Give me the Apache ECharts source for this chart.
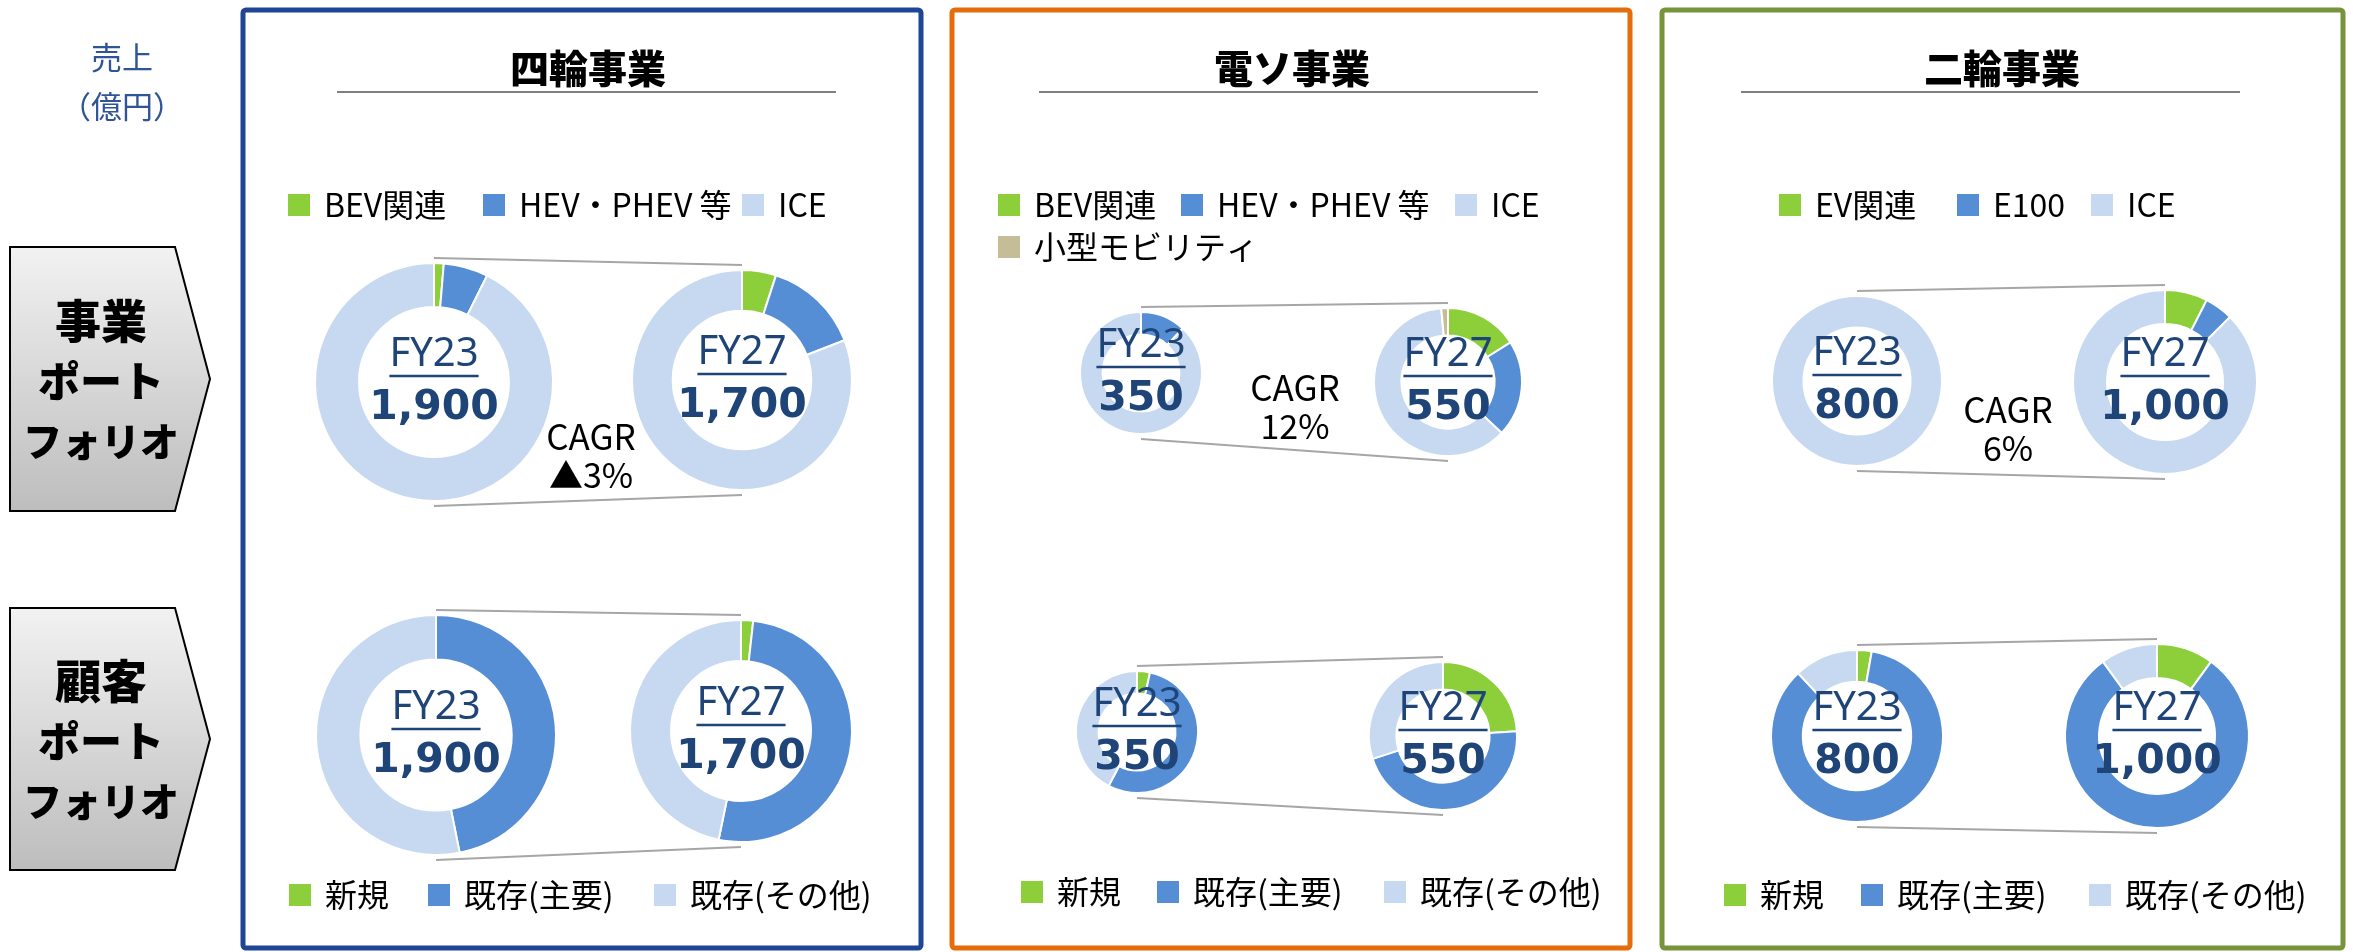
<!DOCTYPE html>
<html>
<head>
<meta charset="utf-8">
<script src="https://cdn.jsdelivr.net/npm/echarts@6/dist/echarts.min.js"></script>
<style>
html, body { margin: 0; padding: 0; background: #fff; }
#main { width: 2353px; height: 952px; }
</style>
</head>
<body>
<div id="main"></div>
<script>
// 事業・顧客ポートフォリオ（売上, 億円）
var segmentTitles = ['四輪事業', '電ソ事業', '二輪事業'];
var yearLabels = ['FY23', 'FY27'];
var sales23 = [1900, 350, 800];
var sales27 = [1700, 550, 1000];
var cagrLabels = ['▲3%', '12%', '6%'];

var bizNames4 = ['BEV関連', 'HEV・PHEV 等', 'ICE'];
var bizNamesDen = ['BEV関連', 'HEV・PHEV 等', 'ICE', '小型モビリティ'];
var bizNames2 = ['EV関連', 'E100', 'ICE'];
var custNames = ['新規', '既存(主要)', '既存(その他)'];

// 事業ポートフォリオ
var biz4_23 = [25, 115, 1760];
var biz4_27 = [85, 240, 1375];
var bizDen_23 = [0, 42, 308, 0];
var bizDen_27 = [88, 116, 338, 8];
var biz2_23 = [0, 0, 800];
var biz2_27 = [75, 50, 875];

// 顧客ポートフォリオ
var cust4_23 = [0, 890, 1010];
var cust4_27 = [30, 875, 795];
var custDen_23 = [12, 190, 148];
var custDen_27 = [132, 253, 165];
var cust2_23 = [22, 682, 96];
var cust2_27 = [100, 800, 100];

var GREEN = '#8CCF3A', BLUE = '#558ED5', LIGHT = '#C6D9F0', TAN = '#C4BD97';
var bizColors = [GREEN, BLUE, LIGHT, TAN];
var custColors = [GREEN, BLUE, LIGHT];
var NAVY = '#1F4478';
var JP = '"Noto Sans CJK JP", "Noto Sans", sans-serif';

// layout of the three panels
var panels = [
    {
        x: 243, w: 678, color: '#1F4596', titleX: 588, rule: [337, 836],
        bizNames: bizNames4, biz: [biz4_23, biz4_27], cust: [cust4_23, cust4_27],
        bizRings: [[434, 382, 119], [742, 380, 110]],
        custRings: [[436, 735, 120], [741, 731, 111]],
        cagrPos: [591, 437],
        bizLegend: [[286, 205], [481, 205], [740, 205]],
        custLegend: [[287, 895], [426, 895], [652, 895]]
    },
    {
        x: 952, w: 678, color: '#E46C0A', titleX: 1292, rule: [1039, 1538],
        bizNames: bizNamesDen, biz: [bizDen_23, bizDen_27], cust: [custDen_23, custDen_27],
        bizRings: [[1141, 373, 61], [1448, 382, 74]],
        custRings: [[1137, 732, 61], [1443, 736, 74]],
        cagrPos: [1295, 388],
        bizLegend: [[996, 205], [1179, 205], [1453, 205], [996, 247]],
        custLegend: [[1019, 892], [1155, 892], [1382, 892]]
    },
    {
        x: 1662, w: 681, color: '#77933C', titleX: 2002, rule: [1741, 2240],
        bizNames: bizNames2, biz: [biz2_23, biz2_27], cust: [cust2_23, cust2_27],
        bizRings: [[1857, 381, 85], [2165, 382, 92]],
        custRings: [[1857, 736, 86], [2157, 736, 92]],
        cagrPos: [2008, 410],
        bizLegend: [[1777, 205], [1955, 205], [2089, 205]],
        custLegend: [[1722, 895], [1859, 895], [2087, 895]]
    }
];

var measureCtx = document.createElement('canvas').getContext('2d');
function textWidth(str, font) {
    measureCtx.font = font;
    return measureCtx.measureText(str).width;
}

var series = [];
var legends = [];
var graphics = [];

function addRing(ring, names, values, colors, yearIdx, total) {
    var cx = ring[0], cy = ring[1], r = ring[2];
    series.push({
        type: 'pie',
        center: [cx, cy],
        radius: [r * 0.63, r],
        startAngle: 90,
        clockwise: true,
        avoidLabelOverlap: false,
        label: { show: false },
        labelLine: { show: false },
        emphasis: { disabled: true },
        itemStyle: { borderColor: '#fff', borderWidth: 2 },
        data: names.map(function (n, i) {
            return { name: n, value: values[i], itemStyle: { color: colors[i] } };
        })
    });
    var fyFont = '40px "Noto Sans", sans-serif';
    var fw = textWidth(yearLabels[yearIdx], fyFont);
    graphics.push({
        type: 'text', z: 20,
        style: { text: yearLabels[yearIdx], x: cx, y: cy - 27, textAlign: 'center', textVerticalAlign: 'middle',
                 font: fyFont, fill: NAVY }
    });
    graphics.push({
        type: 'line', z: 20,
        shape: { x1: cx - fw / 2, y1: cy - 6, x2: cx + fw / 2, y2: cy - 6 },
        style: { stroke: NAVY, lineWidth: 2.5 }
    });
    graphics.push({
        type: 'text', z: 20,
        style: { text: total.toLocaleString('en-US'), x: cx, y: cy + 26, textAlign: 'center', textVerticalAlign: 'middle',
                 font: 'bold 41px "DejaVu Sans", sans-serif', fill: NAVY }
    });
}

function addConnector(a, b) {
    var off = 5;
    graphics.push({ type: 'line', z: 1, shape: { x1: a[0], y1: a[1] - a[2] - off, x2: b[0], y2: b[1] - b[2] - off },
                    style: { stroke: '#A6A6A6', lineWidth: 2 } });
    graphics.push({ type: 'line', z: 1, shape: { x1: a[0], y1: a[1] + a[2] + off, x2: b[0], y2: b[1] + b[2] + off },
                    style: { stroke: '#A6A6A6', lineWidth: 2 } });
}

function addLegendItem(name, pos) {
    legends.push({
        left: pos[0], top: pos[1] - 16,
        padding: 0, itemWidth: 24, itemHeight: 24, itemGap: 0,
        icon: 'rect', selectedMode: false,
        data: [name],
        textStyle: { fontSize: 32, lineHeight: 32, fontFamily: JP, color: '#000', padding: [0, 0, 0, 8] }
    });
}

panels.forEach(function (p, k) {
    // frame
    graphics.push({ type: 'rect', z: 0, shape: { x: p.x, y: 10, width: p.w, height: 938, r: 3 },
                    style: { fill: 'none', stroke: p.color, lineWidth: 5 } });
    // title + rule
    graphics.push({ type: 'text', z: 5, style: { text: segmentTitles[k], x: p.titleX, y: 68, textAlign: 'center',
                    textVerticalAlign: 'middle', font: '900 39px ' + JP, fill: '#000' } });
    graphics.push({ type: 'line', z: 5, shape: { x1: p.rule[0], y1: 92, x2: p.rule[1], y2: 92 },
                    style: { stroke: '#808080', lineWidth: 2 } });

    addConnector(p.bizRings[0], p.bizRings[1]);
    addConnector(p.custRings[0], p.custRings[1]);
    addRing(p.bizRings[0], p.bizNames, p.biz[0], bizColors, 0, sales23[k]);
    addRing(p.bizRings[1], p.bizNames, p.biz[1], bizColors, 1, sales27[k]);
    addRing(p.custRings[0], custNames, p.cust[0], custColors, 0, sales23[k]);
    addRing(p.custRings[1], custNames, p.cust[1], custColors, 1, sales27[k]);

    graphics.push({ type: 'text', z: 5, style: { text: 'CAGR', x: p.cagrPos[0], y: p.cagrPos[1], textAlign: 'center',
                    textVerticalAlign: 'middle', font: '35px ' + JP, fill: '#000' } });
    graphics.push({ type: 'text', z: 5, style: { text: cagrLabels[k], x: p.cagrPos[0], y: p.cagrPos[1] + 38, textAlign: 'center',
                    textVerticalAlign: 'middle', font: '34px ' + JP, fill: '#000' } });

    p.bizNames.forEach(function (n, i) { addLegendItem(n, p.bizLegend[i]); });
    custNames.forEach(function (n, i) { addLegendItem(n, p.custLegend[i]); });
});

// left side labels
graphics.push({ type: 'text', style: { text: '売上', x: 122, y: 57, textAlign: 'center', textVerticalAlign: 'middle',
                font: '31px ' + JP, fill: '#2F5597' } });
graphics.push({ type: 'text', style: { text: '（億円）', x: 122, y: 106, textAlign: 'center', textVerticalAlign: 'middle',
                font: '31px ' + JP, fill: '#2F5597' } });

var arrowLabels = [['事業', 'ポート', 'フォリオ'], ['顧客', 'ポート', 'フォリオ']];
var arrowFontSizes = [46, 42, 39];
var arrowBoxes = [[247, 511], [608, 870]];
arrowBoxes.forEach(function (b, j) {
    var mid = (b[0] + b[1]) / 2;
    graphics.push({
        type: 'polygon',
        shape: { points: [[10, b[0]], [175, b[0]], [210, mid], [175, b[1]], [10, b[1]]] },
        style: {
            fill: new echarts.graphic.LinearGradient(0, 0, 0, 1, [
                { offset: 0, color: '#F2F2F2' }, { offset: 1, color: '#BDBDBD' }
            ]),
            stroke: '#000', lineWidth: 2
        }
    });
    arrowLabels[j].forEach(function (t, i) {
        graphics.push({ type: 'text', z: 5, style: { text: t, x: 101, y: mid - 58 + i * 60, textAlign: 'center',
                        textVerticalAlign: 'middle', font: '900 ' + arrowFontSizes[i] + 'px ' + JP, fill: '#000' } });
    });
});

var myChart = echarts.init(document.getElementById('main'));
myChart.setOption({
    backgroundColor: '#fff',
    animation: false,
    legend: legends,
    series: series,
    graphic: graphics
});
</script>
</body>
</html>
